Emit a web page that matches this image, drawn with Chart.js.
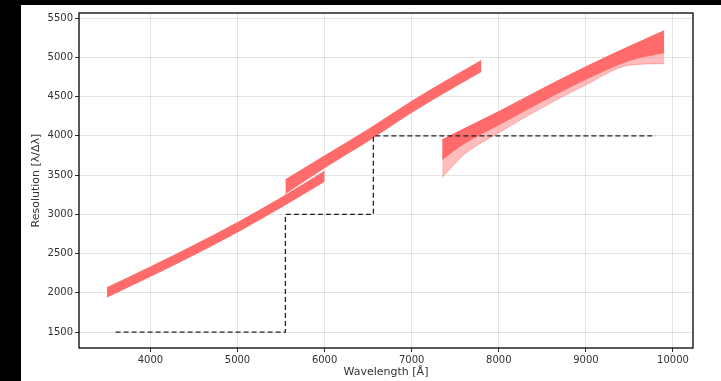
<!DOCTYPE html>
<html lang="en">
<head>
    <meta charset="UTF-8">
    <title>Resolution vs wavelength</title>
    <script src="https://cdn.jsdelivr.net/npm/chart.js"></script>
    <style>
        html, body {
            margin: 0;
            padding: 0;
            background: #000;
            width: 721px;
            height: 381px;
            overflow: hidden;
        }
        .panel {
            position: absolute;
            left: 21px;
            top: 5px;
            width: 700px;
            height: 376px;
            background: #fff;
        }
    </style>
</head>
<body>
    <div class="panel">
        <canvas id="resChart" width="700" height="376"></canvas>
    </div>

    <script>
        // arm A
        const waveA = [3500, 4000, 4500, 5000, 5500, 6000];
        const resAHigh = [2065, 2330, 2605, 2895, 3210, 3550];
        const resALow = [1945, 2210, 2485, 2775, 3090, 3420];

        // arm B
        const waveB = [5550, 6000, 6500, 7000, 7500, 7800];
        const resBHigh = [3440, 3745, 4080, 4440, 4770, 4960];
        const resBLow = [3265, 3595, 3935, 4300, 4630, 4820];

        // arm C (spread of curves fans out at the ends)
        const waveC = [7350, 7600, 8000, 8500, 9000, 9500, 9900];
        const resCHigh = [3950, 4090, 4310, 4600, 4880, 5140, 5340];
        const resCLow = [3700, 3900, 4140, 4440, 4720, 4960, 5060];
        const resCFaint = [3470, 3760, 4040, 4360, 4650, 4900, 4920];

        // requirement (dashed step)
        const reqWave = [3600, 5550, 5550, 6560, 6560, 9800];
        const reqRes = [1500, 1500, 3000, 3000, 4000, 4000];

        const xTicks = [4000, 5000, 6000, 7000, 8000, 9000, 10000];
        const yTicks = [1500, 2000, 2500, 3000, 3500, 4000, 4500, 5000, 5500];

        const bandColor = 'rgb(255, 107, 107)';
        const faintColor = 'rgba(255, 107, 107, 0.45)';

        const pts = (xs, ys) => xs.map((x, i) => ({ x: x, y: ys[i] }));

        function band(xs, ys, fill, color) {
            return {
                data: pts(xs, ys),
                borderColor: color,
                backgroundColor: color,
                borderWidth: 1,
                pointRadius: 0,
                cubicInterpolationMode: 'monotone',
                fill: fill
            };
        }

        const frame = {
            id: 'frame',
            afterDatasetsDraw(chart) {
                const a = chart.chartArea;
                const ctx = chart.ctx;
                ctx.save();
                ctx.strokeStyle = '#000';
                ctx.lineWidth = 1.3;
                ctx.strokeRect(a.left, a.top, a.right - a.left, a.bottom - a.top);
                ctx.restore();
            }
        };

        new Chart(document.getElementById('resChart').getContext('2d'), {
            type: 'line',
            data: {
                datasets: [
                    {
                        data: pts(reqWave, reqRes),
                        borderColor: '#222',
                        borderWidth: 1.3,
                        borderDash: [5, 3],
                        pointRadius: 0,
                        fill: false
                    },
                    band(waveA, resAHigh, false, bandColor),
                    band(waveA, resALow, '-1', bandColor),
                    band(waveB, resBHigh, false, bandColor),
                    band(waveB, resBLow, '-1', bandColor),
                    band(waveC, resCHigh, false, bandColor),
                    band(waveC, resCLow, '-1', bandColor),
                    band(waveC, resCFaint, '-1', faintColor)
                ]
            },
            options: {
                responsive: false,
                animation: false,
                layout: {
                    padding: { top: 7, right: 28, left: 0, bottom: 0 }
                },
                plugins: {
                    legend: { display: false },
                    tooltip: { enabled: false }
                },
                scales: {
                    x: {
                        type: 'linear',
                        min: 3180,
                        max: 10230,
                        afterBuildTicks: axis => { axis.ticks = xTicks.map(v => ({ value: v })); },
                        afterFit: axis => { axis.height = 33; },
                        ticks: {
                            color: '#333',
                            padding: 2,
                            font: { family: 'DejaVu Sans', size: 10 },
                            callback: v => String(v)
                        },
                        grid: {
                            color: 'rgba(0, 0, 0, 0.1)',
                            tickColor: '#333',
                            tickLength: 4
                        },
                        border: { display: false },
                        title: {
                            display: true,
                            text: 'Wavelength [Å]',
                            color: '#333',
                            font: { family: 'DejaVu Sans', size: 11 },
                            padding: { top: 0, bottom: 2 }
                        }
                    },
                    y: {
                        type: 'linear',
                        min: 1297,
                        max: 5565,
                        afterBuildTicks: axis => { axis.ticks = yTicks.map(v => ({ value: v })); },
                        afterFit: axis => { axis.width = 58; },
                        ticks: {
                            color: '#333',
                            padding: 2,
                            font: { family: 'DejaVu Sans', size: 10 },
                            callback: v => String(v)
                        },
                        grid: {
                            color: 'rgba(0, 0, 0, 0.1)',
                            tickColor: '#333',
                            tickLength: 4
                        },
                        border: { display: false },
                        title: {
                            display: true,
                            text: 'Resolution [λ/Δλ]',
                            color: '#333',
                            font: { family: 'DejaVu Sans', size: 11 },
                            padding: { top: 9, bottom: 0 }
                        }
                    }
                }
            },
            plugins: [frame]
        });
    </script>
</body>
</html>
